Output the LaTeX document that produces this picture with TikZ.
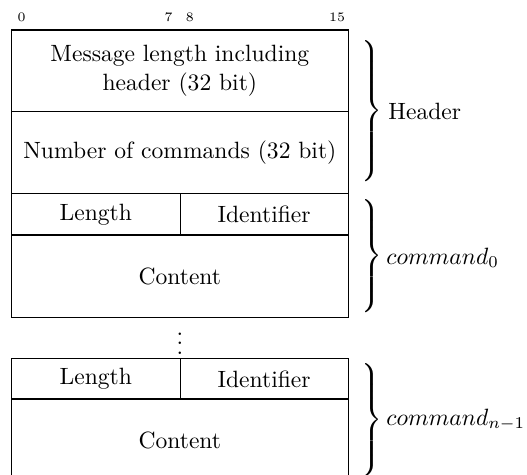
\documentclass[tikz,border=0pt]{standalone}
\begin{document}
\begin{tikzpicture}[x=0.4244pt, y=-0.4244pt,
  cell/.style={draw, line width=0.5pt, inner sep=0pt, anchor=north west, align=center},
  bitno/.style={font=\fontsize{5.5}{6}\selectfont, inner sep=0pt},
  bracenode/.style={anchor=west, inner sep=0pt},
  tag/.style={anchor=west, inner sep=0pt}]
\useasboundingbox (0,0) rectangle (527,475);
\def\u{0.4244pt}
\newcommand{\bigbrace}[1]{$\delimitershortfall=0pt\delimiterfactor=1000\left.\vcenter{\hbox{\rule{0pt}{#1}}}\right\}$}

% bit numbers
\node[bitno] (b0)  at (21.5,17.5) {0};
\node[bitno] (b7)  at (168.7,17.5) {7};
\node[bitno] (b8)  at (189.8,17.5) {8};
\node[bitno] (b15) at (337,17.5) {15};

% header
\node[cell, minimum width=336.5*\u, minimum height=81.5*\u] (msglen) at (11,29.5)
  {Message length including\\header (32 bit)};
\node[cell, minimum width=336.5*\u, minimum height=82*\u] (ncmd) at (11,111)
  {Number of commands (32 bit)};

% first command
\node[cell, minimum width=168.5*\u, minimum height=41.5*\u] (len0) at (11,193) {Length};
\node[cell, minimum width=168*\u, minimum height=41.5*\u] (id0) at (179.5,193) {Identifier};
\node[cell, minimum width=336.5*\u, minimum height=82.5*\u] (cont0) at (11,234.5) {Content};

% ellipsis
\node[anchor=south, inner sep=0pt] (dots) at (180,354.5) {$\vdots$};

% last command
\node[cell, minimum width=168.5*\u, minimum height=40.5*\u] (lenN) at (11,358) {Length};
\node[cell, minimum width=168*\u, minimum height=40.5*\u] (idN) at (179.5,358) {Identifier};
\node[cell, minimum width=336.5*\u, minimum height=82.5*\u] (contN) at (11,398.5) {Content};

% braces and labels
\node[bracenode] (brh) at (358,111) {\bigbrace{58pt}};
\node[tag] (lh) at (388,111) {Header};
\node[bracenode] (br0) at (358,256) {\bigbrace{47pt}};
\node[tag] (l0) at (386,258) {$command_0$};
\node[bracenode] (brN) at (358,420) {\bigbrace{47pt}};
\node[tag] (lN) at (386,420) {$command_{n-1}$};
\end{tikzpicture}
\end{document}
